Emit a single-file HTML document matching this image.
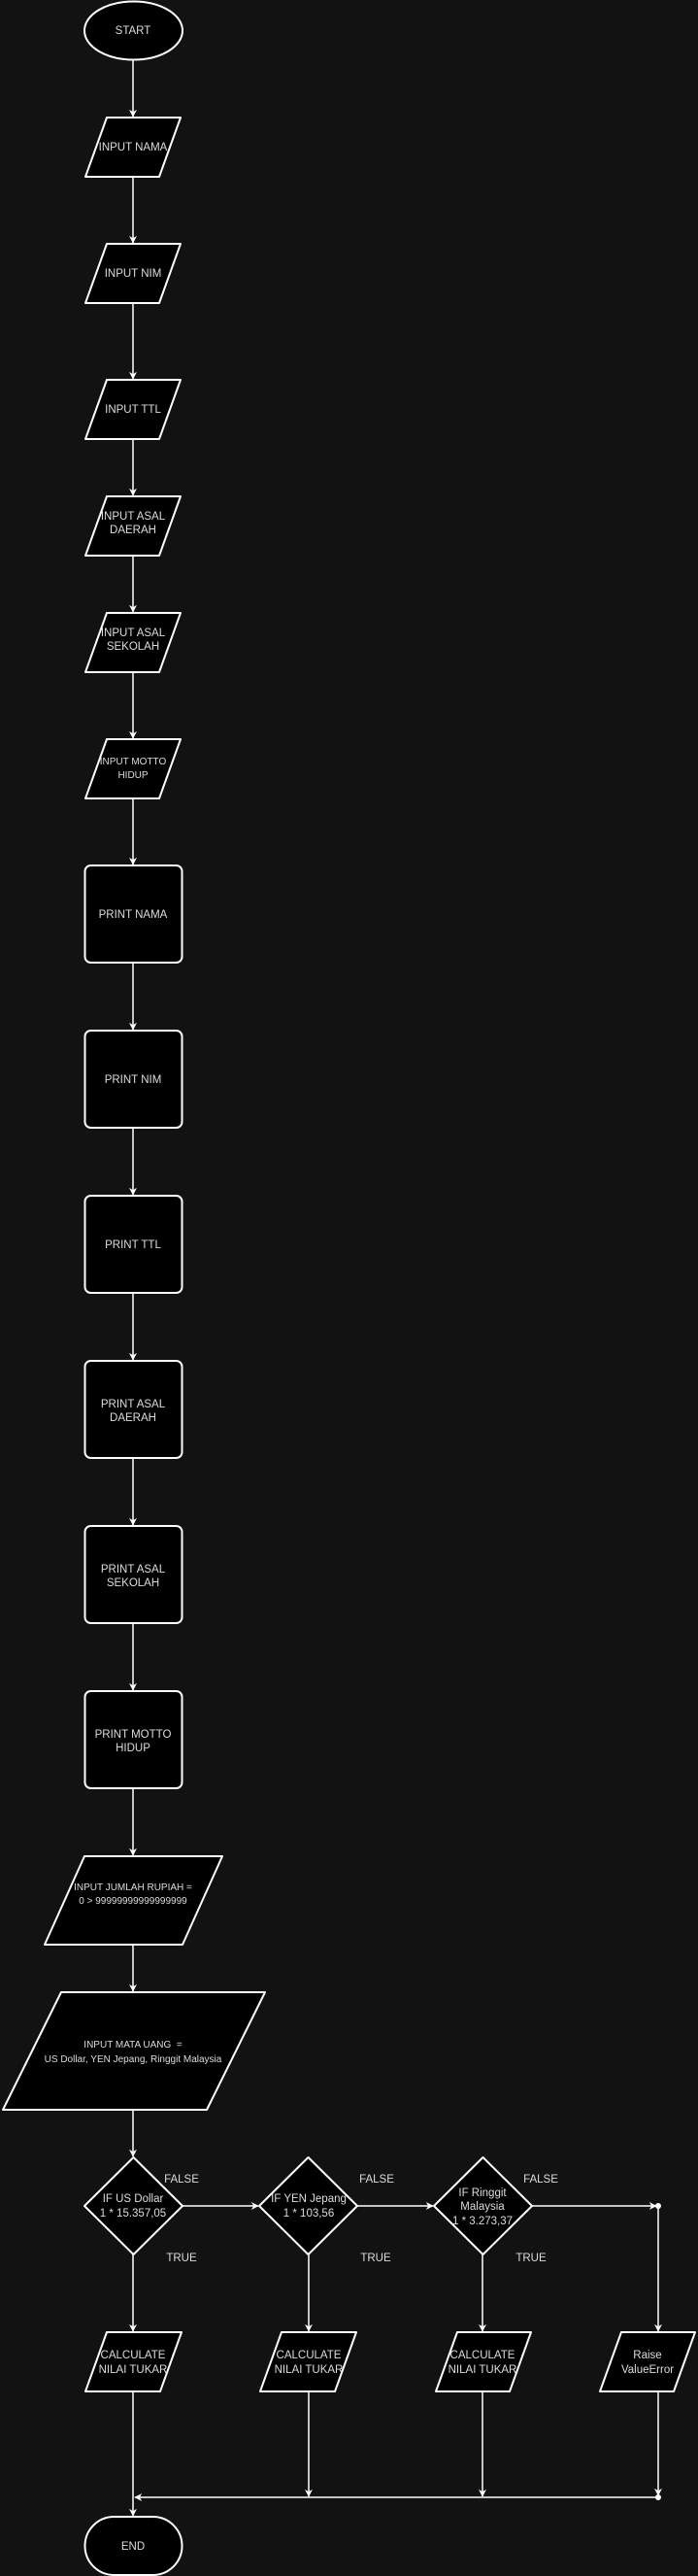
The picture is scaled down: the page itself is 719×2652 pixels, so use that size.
<!DOCTYPE html>
<html><head><meta charset="utf-8"><style>
html,body{margin:0;padding:0;background:#121212;}
svg{display:block;}
text{font-family:"Liberation Sans",sans-serif;fill:#dcdcdc;font-size:11.5px;text-anchor:middle;}
</style></head><body>
<svg width="719" height="2652" viewBox="0 0 719 2652" xmlns="http://www.w3.org/2000/svg">
<defs>
<marker id="a" viewBox="0 0 10 10" refX="9" refY="5" markerWidth="8" markerHeight="8" orient="auto" markerUnits="userSpaceOnUse">
<path d="M0,0 L10,5 L0,10 L3,5 Z" fill="#fff"/>
</marker>
</defs>
<g stroke="#fff" stroke-width="1.5" fill="none">
<line x1="137" y1="62" x2="137" y2="120" marker-end="url(#a)"/>
<line x1="137" y1="182" x2="137" y2="250" marker-end="url(#a)"/>
<line x1="137" y1="312" x2="137" y2="390" marker-end="url(#a)"/>
<line x1="137" y1="452" x2="137" y2="510" marker-end="url(#a)"/>
<line x1="137" y1="572" x2="137" y2="630" marker-end="url(#a)"/>
<line x1="137" y1="692" x2="137" y2="760" marker-end="url(#a)"/>
<line x1="137" y1="822" x2="137" y2="890" marker-end="url(#a)"/>
<line x1="137" y1="991" x2="137" y2="1060" marker-end="url(#a)"/>
<line x1="137" y1="1161" x2="137" y2="1230" marker-end="url(#a)"/>
<line x1="137" y1="1331" x2="137" y2="1400" marker-end="url(#a)"/>
<line x1="137" y1="1501" x2="137" y2="1570" marker-end="url(#a)"/>
<line x1="137" y1="1671" x2="137" y2="1740" marker-end="url(#a)"/>
<line x1="137" y1="1841" x2="137" y2="1910" marker-end="url(#a)"/>
<line x1="137" y1="2002" x2="137" y2="2050" marker-end="url(#a)"/>
<line x1="137" y1="2172" x2="137" y2="2220" marker-end="url(#a)"/>
<line x1="188" y1="2271" x2="266" y2="2271" marker-end="url(#a)"/>
<line x1="368" y1="2271" x2="446" y2="2271" marker-end="url(#a)"/>
<line x1="548" y1="2271" x2="676" y2="2271" marker-end="url(#a)"/>
<line x1="678" y1="2271" x2="678" y2="2400" marker-end="url(#a)"/>
<line x1="137" y1="2321" x2="137" y2="2400" marker-end="url(#a)"/>
<line x1="318" y1="2321" x2="318" y2="2400" marker-end="url(#a)"/>
<line x1="497" y1="2321" x2="497" y2="2400" marker-end="url(#a)"/>
<line x1="318" y1="2462" x2="318" y2="2570" marker-end="url(#a)"/>
<line x1="497" y1="2462" x2="497" y2="2570" marker-end="url(#a)"/>
<line x1="678" y1="2462" x2="678" y2="2569" marker-end="url(#a)"/>
<line x1="678" y1="2571" x2="139" y2="2571" marker-end="url(#a)"/>
<line x1="137" y1="2462" x2="137" y2="2590" marker-end="url(#a)"/>
</g>
<circle cx="678" cy="2271" r="3" fill="#fff"/>
<circle cx="678" cy="2571" r="3" fill="#fff"/>
<g stroke="#fff" stroke-width="2" fill="#000" stroke-linejoin="round">
<ellipse cx="137.5" cy="31.5" rx="50.5" ry="30"/>
<polygon points="110,121 186,121 164,182 88,182"/>
<polygon points="110,251 186,251 164,312 88,312"/>
<polygon points="110,391 186,391 164,452 88,452"/>
<polygon points="110,511 186,511 164,572 88,572"/>
<polygon points="110,631 186,631 164,692 88,692"/>
<polygon points="110,761 186,761 164,822 88,822"/>
<rect x="87.5" y="891" width="100" height="100" rx="6"/>
<rect x="87.5" y="1061" width="100" height="100" rx="6"/>
<rect x="87.5" y="1231" width="100" height="100" rx="6"/>
<rect x="87.5" y="1401" width="100" height="100" rx="6"/>
<rect x="87.5" y="1571" width="100" height="100" rx="6"/>
<rect x="87.5" y="1741" width="100" height="100" rx="6"/>
<polygon points="87,1911 229,1911 188,2002 46,2002"/>
<polygon points="63,2051 273,2051 213,2172 3,2172"/>
<polygon points="137.5,2221 188,2271 137.5,2321 87,2271"/>
<polygon points="317.5,2221 368,2271 317.5,2321 267,2271"/>
<polygon points="497.5,2221 548,2271 497.5,2321 447,2271"/>
<polygon points="110,2401 187,2401 165,2462 88,2462"/>
<polygon points="290,2401 367,2401 345,2462 268,2462"/>
<polygon points="471,2401 547,2401 525,2462 449,2462"/>
<polygon points="640,2401 716,2401 694,2462 618,2462"/>
<rect x="87.5" y="2591" width="100" height="60" rx="30"/>
</g>
<text x="137" y="35">START</text>
<text x="137" y="155">INPUT NAMA</text>
<text x="137" y="285">INPUT NIM</text>
<text x="137" y="425">INPUT TTL</text>
<text x="137" y="535">INPUT ASAL</text><text x="137" y="549">DAERAH</text>
<text x="137" y="655">INPUT ASAL</text><text x="137" y="669">SEKOLAH</text>
<text x="137" y="787" style="font-size:10px">INPUT MOTTO</text><text x="137" y="801" style="font-size:10px">HIDUP</text>
<text x="137" y="945">PRINT NAMA</text>
<text x="137" y="1115">PRINT NIM</text>
<text x="137" y="1285">PRINT TTL</text>
<text x="137" y="1449">PRINT ASAL</text><text x="137" y="1463">DAERAH</text>
<text x="137" y="1619">PRINT ASAL</text><text x="137" y="1633">SEKOLAH</text>
<text x="137" y="1789">PRINT MOTTO</text><text x="137" y="1803">HIDUP</text>
<text x="137" y="1946" style="font-size:10px">INPUT JUMLAH RUPIAH =</text>
<text x="137" y="1960" style="font-size:10px">0 &gt; 99999999999999999</text>
<text x="137" y="2108" style="font-size:10px">INPUT MATA UANG&#160; =</text>
<text x="137" y="2123" style="font-size:10px">US Dollar, YEN Jepang, Ringgit Malaysia</text>
<text x="137" y="2267">IF US Dollar</text><text x="137" y="2282">1 * 15.357,05</text>
<text x="318" y="2267">IF YEN Jepang</text><text x="318" y="2282">1 * 103,56</text>
<text x="497" y="2261">IF Ringgit</text><text x="497" y="2275">Malaysia</text><text x="497" y="2290">1 * 3.273,37</text>
<text x="187" y="2247">FALSE</text><text x="388" y="2247">FALSE</text><text x="557" y="2247">FALSE</text>
<text x="187" y="2328">TRUE</text><text x="387" y="2328">TRUE</text><text x="547" y="2328">TRUE</text>
<text x="137" y="2428">CALCULATE</text><text x="137" y="2443">NILAI TUKAR</text>
<text x="318" y="2428">CALCULATE</text><text x="318" y="2443">NILAI TUKAR</text>
<text x="497" y="2428">CALCULATE</text><text x="497" y="2443">NILAI TUKAR</text>
<text x="667" y="2428">Raise</text><text x="667" y="2443">ValueError</text>
<text x="137" y="2625">END</text>
</svg>
</body></html>
